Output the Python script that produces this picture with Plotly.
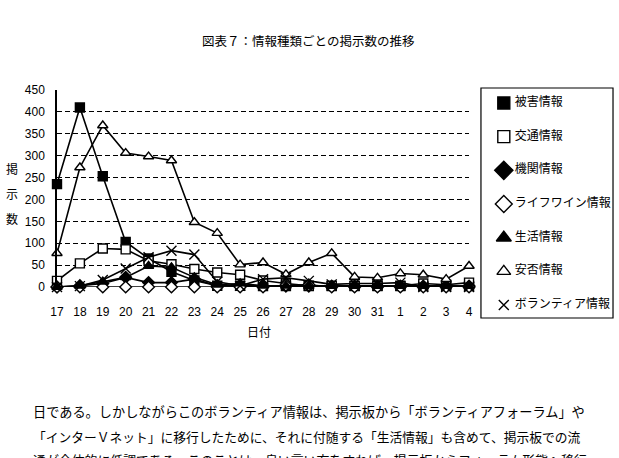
import plotly.graph_objects as go

dates = ["17", "18", "19", "20", "21", "22", "23", "24", "25", "26",
         "27", "28", "29", "30", "31", "1", "2", "3", "4"]

higai = [235, 410, 253, 103, 65, 35, 15, 3, 3, 2, 2, 2, 2, 2, 2, 2, 2, 2, 2]
kotsu = [14, 54, 88, 86, 60, 52, 41, 33, 28, 15, 8, 3, 3, 3, 3, 3, 8, 5, 10]
kikan = [0, 3, 8, 22, 10, 10, 18, 3, 2, 2, 2, 2, 2, 2, 2, 2, 2, 2, 2]
lifeline = [0, 0, 0, 0, 0, 0, 0, 0, 0, 0, 4, 5, 0, 0, 0, 0, 0, 0, 0]
seikatsu = [0, 3, 12, 22, 48, 45, 22, 5, 8, 3, 3, 2, 2, 2, 2, 2, 2, 2, 2]
anpi = [77, 273, 369, 306, 298, 289, 148, 123, 51, 56, 29, 56, 77, 23, 21, 31, 28, 18, 48]
volunteer = [0, 2, 16, 42, 68, 83, 74, 12, 3, 18, 21, 14, 6, 8, 8, 10, 0, 0, 0]

series_names = ["被害情報", "交通情報", "機関情報", "ライフワイン情報", "生活情報", "安否情報", "ボランティア情報"]
y_ticks = [0, 50, 100, 150, 200, 250, 300, 350, 400, 450]

JP = "Noto Sans CJK JP"
series = [higai, kotsu, kikan, lifeline, seikatsu, anpi, volunteer]
symbols = ["square", "square", "diamond", "diamond", "triangle-up", "triangle-up", "x-thin-open"]
fills = ["black", "white", "black", "white", "black", "white", "black"]
legend_sizes = [12, 12, 14, 13, 13, 12, 10]

W, H = 619, 458
ML, MR, MT, MB = 57, 0, 88, 140
PW = W - ML - MR          # 562
PH = H - MT - MB          # 230
plot_left, plot_right, plot_top, plot_bottom = 57, 472, 90, 287
leg_left, leg_right, leg_top, leg_bottom = 484, 617, 88, 318
sym_x, txt_x = 507, 518


def px_x(p):
    return (p - ML) / PW


def px_y(p):
    return (H - MB - p) / PH


fig = go.Figure()
for name, vals, sym, fc in zip(series_names, series, symbols, fills):
    fig.add_trace(go.Scatter(
        x=dates, y=vals, mode="lines+markers", name=name, showlegend=False,
        line=dict(color="black", width=1.6),
        marker=dict(symbol=sym, size=10 if "x" in sym else 9, color=fc,
                    line=dict(color="black", width=1.4)),
        cliponaxis=False,
    ))

# legend drawn on its own axis pair
idx = list(range(len(series_names)))
for i, name, sym, fc, sz in zip(idx, series_names, symbols, fills, legend_sizes):
    fig.add_trace(go.Scatter(
        x=[0], y=[i], xaxis="x2", yaxis="y2", mode="markers", showlegend=False,
        marker=dict(symbol=sym, size=sz, color=fc, line=dict(color="black", width=1.4)),
        cliponaxis=False, hoverinfo="skip",
    ))
fig.add_trace(go.Scatter(
    x=[txt_x - sym_x] * len(series_names), y=idx, xaxis="x2", yaxis="y2",
    mode="text", text=series_names, textposition="middle right", showlegend=False,
    textfont=dict(family=JP, size=12, color="black"), cliponaxis=False, hoverinfo="skip",
))

step = 33.67
first = 103
leg_w = leg_right - leg_left
fig.update_layout(
    width=W, height=H,
    margin=dict(l=ML, r=MR, t=MT, b=MB),
    paper_bgcolor="white", plot_bgcolor="white",
    font=dict(family=JP, size=11, color="black"),
    showlegend=False,
    xaxis=dict(
        type="category", range=[0, 18], showgrid=False, showline=False,
        domain=[px_x(plot_left), px_x(plot_right)],
        zeroline=False, ticks="", ticklabelstandoff=16,
        tickfont=dict(family="Liberation Sans Narrow, Liberation Sans", size=12),
    ),
    yaxis=dict(
        range=[0, 450], tickvals=y_ticks, showgrid=True, gridcolor="black",
        domain=[px_y(plot_bottom), px_y(plot_top)],
        gridwidth=1.3, griddash="5px,3px", showline=True, linecolor="black",
        linewidth=1.5, zeroline=False, ticks="", ticklabelstandoff=8,
        tickfont=dict(family="Liberation Sans Narrow, Liberation Sans", size=12),
    ),
    xaxis2=dict(
        domain=[px_x(leg_left), min(1.0, px_x(leg_right))], anchor="y2",
        range=[-(sym_x - leg_left), leg_w - (sym_x - leg_left)],
        visible=False, fixedrange=True,
    ),
    yaxis2=dict(
        domain=[px_y(leg_bottom), px_y(leg_top)], anchor="x2",
        range=[(leg_bottom - first) / step, -(first - leg_top) / step],
        visible=False, fixedrange=True,
    ),
)

fig.add_shape(type="rect", xref="paper", yref="paper",
              x0=px_x(leg_left), x1=px_x(leg_right), y0=px_y(leg_bottom), y1=px_y(leg_top),
              line=dict(color="black", width=1.2), fillcolor="rgba(0,0,0,0)")

anns = [
    dict(text="図表７：情報種類ごとの掲示数の推移", x=310, y=40, size=12.5),
    dict(text="掲", x=12, y=168, size=12),
    dict(text="示", x=12, y=193, size=12),
    dict(text="数", x=12, y=218, size=12),
    dict(text="日付", x=260, y=331, size=12),
]
for a in anns:
    fig.add_annotation(
        text=a["text"], xref="paper", yref="paper",
        x=px_x(a["x"]), y=px_y(a["y"]),
        xanchor="center", yanchor="middle", showarrow=False,
        font=dict(family=JP, size=a["size"], color="black"),
    )

body = [
    ("日である。しかしながらこのボランティア情報は、掲示板から「ボランティアフォーラム」や", 411, 13.2),
    ("「インターＶネット」に移行したために、それに付随する「生活情報」も含めて、掲示板での流", 436, 12.75),
    ("通が全体的に低調である。このことは、良い言い方をすれば、掲示板からフォーラム形態へ移行", 459, 12.9),
]
for txt, yy, fs in body:
    fig.add_annotation(
        text=txt, xref="paper", yref="paper",
        x=px_x(31), y=px_y(yy),
        xanchor="left", yanchor="middle", showarrow=False,
        font=dict(family=JP, size=fs, color="black"),
    )

fig.write_html("out.html")
